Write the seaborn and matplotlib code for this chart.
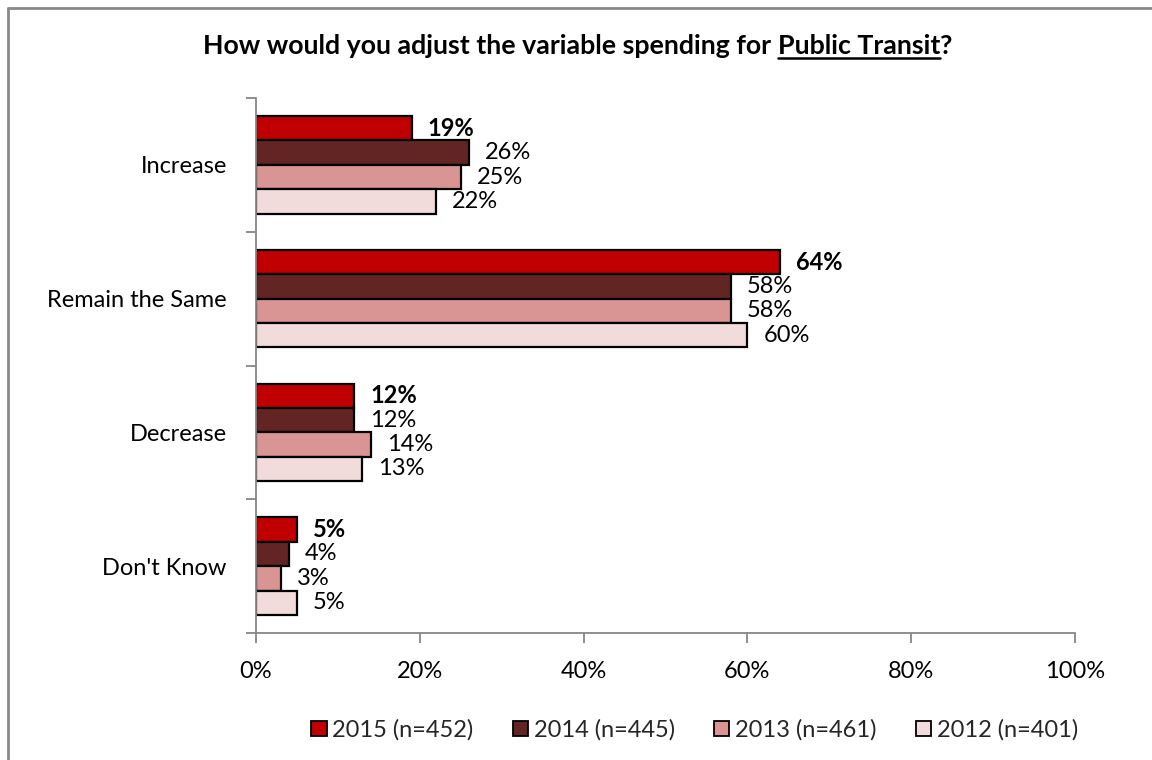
import matplotlib
matplotlib.use("Agg")
import matplotlib.pyplot as plt
from matplotlib.lines import Line2D
from matplotlib.ticker import FixedLocator, PercentFormatter
import seaborn as sns
import pandas as pd

# Survey responses (percent of respondents)
categories = ["Increase", "Remain the Same", "Decrease", "Don't Know"]
years = ["2015 (n=452)", "2014 (n=445)", "2013 (n=461)", "2012 (n=401)"]
values_2015 = [19, 64, 12, 5]
values_2014 = [26, 58, 12, 4]
values_2013 = [25, 58, 14, 3]
values_2012 = [22, 60, 13, 5]
colors = ["#C00000", "#632523", "#D99594", "#F2DCDB"]

series = [values_2015, values_2014, values_2013, values_2012]
rows = []
for year, vals in zip(years, series):
    for cat, v in zip(categories, vals):
        rows.append({"Response": cat, "Year": year, "Percent": v})
df = pd.DataFrame(rows)

sns.set_theme(style="white")
plt.rcParams["font.family"] = ["Lato", "DejaVu Sans"]

FS = 17
W, H = 1152, 760
fig = plt.figure(figsize=(W / 100, H / 100), dpi=100)
ax = fig.add_axes([256 / W, 1 - 633 / H, (1075 - 256) / W, (633 - 98) / H])

sns.barplot(data=df, y="Response", x="Percent", hue="Year", order=categories,
            hue_order=years, palette=colors, saturation=1, orient="h",
            width=0.73, edgecolor="black", linewidth=1.6, ax=ax, legend=True)

ax.set_xlim(0, 100)
ax.set_ylim(3.5, -0.5)
ax.xaxis.set_major_locator(FixedLocator([0, 20, 40, 60, 80, 100]))
ax.xaxis.set_major_formatter(PercentFormatter(decimals=0))
ax.yaxis.set_minor_locator(FixedLocator([-0.5, 0.5, 1.5, 2.5, 3.5]))
ax.set_xlabel("")
ax.set_ylabel("")

for side in ["top", "right"]:
    ax.spines[side].set_visible(False)
for side in ["left", "bottom"]:
    ax.spines[side].set_color("#868686")
    ax.spines[side].set_linewidth(1.3)

ax.tick_params(axis="x", which="major", direction="out", length=7, width=1.3,
               color="#868686", labelsize=FS, labelcolor="black", pad=13,
               bottom=True)
ax.tick_params(axis="y", which="major", length=0, labelsize=FS,
               labelcolor="black", pad=21)
ax.tick_params(axis="y", which="minor", direction="out", length=7, width=1.3,
               color="#868686", left=True)

# Value labels next to each bar; the latest year in bold
for i, cont in enumerate(ax.containers):
    ax.bar_label(cont, fmt="{:.0f}%", padding=11.5, fontsize=FS,
                 fontweight="bold" if i == 0 else "normal", color="black")

# Legend along the bottom
handles, labels = ax.get_legend_handles_labels()
ax.get_legend().remove()
leg = fig.legend(handles, labels, loc="center", bbox_to_anchor=(0.603, 1 - 730 / H),
                 ncol=4, frameon=False, fontsize=FS, handlelength=0.65,
                 handleheight=0.65, handletextpad=0.25, columnspacing=1.65)
for h in leg.legend_handles:
    h.set_edgecolor("black")
    h.set_linewidth(1.3)

# Title with underlined subject
fig.canvas.draw()
renderer = fig.canvas.get_renderer()
title_y = 1 - 54 / H
parts = ["How would you adjust the variable spending for ", "Public Transit", "?"]
texts = []
for p in parts:
    t = fig.text(0, title_y, p, fontsize=19.3, fontweight="bold", va="baseline",
                 ha="left", color="black")
    texts.append(t)
widths = [t.get_window_extent(renderer).width for t in texts]
total = sum(widths)
x0 = 578 - total / 2
for t, w in zip(texts, widths):
    t.set_x(x0 / W)
    x0 += w
bb = texts[1].get_window_extent(renderer)
uy = title_y - 4 / H
fig.add_artist(Line2D([bb.x0 / W, bb.x1 / W], [uy, uy], color="black", lw=1.8,
                      transform=fig.transFigure))

# Enclosing frame (continues past the right and bottom edges)
frame_kw = dict(color="#8A8A8A", lw=2.0, transform=fig.transFigure)
fig.add_artist(Line2D([7.5 / W, 7.5 / W], [1 - 8 / H, -0.05], **frame_kw))
fig.add_artist(Line2D([7.5 / W, 1.05], [1 - 8 / H, 1 - 8 / H], **frame_kw))
fig.text(8 / W, 1 + 3 / H, "Figure", fontsize=13, fontweight="bold",
         va="baseline", ha="left", color="black")

fig.savefig("out.png", dpi=100, facecolor="white")
